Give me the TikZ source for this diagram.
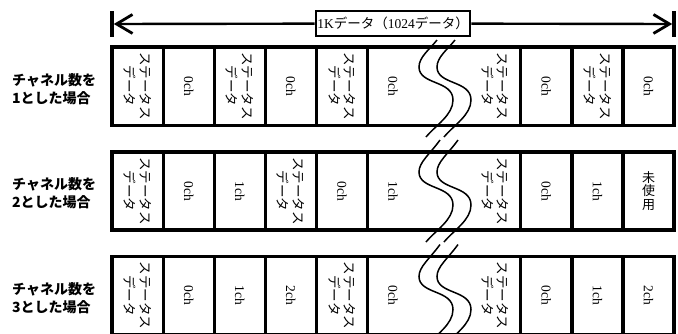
\documentclass[tikz,border=0pt]{standalone}
\usepackage{fontspec}
\setmainfont{Liberation Serif}
\newfontfamily\jp{Noto Sans CJK JP}
\usetikzlibrary{arrows.meta}

% one wavy break line; #1 = x reference, #2 = row top, #3/#4 = start offsets
\newcommand\brkcurve[4]{%
  \draw[wave] ({#1+#3},{#2+#4})
    .. controls ({#1+8},{#2+2}) and ({#1-3},{#2+10}) .. ({#1-3},{#2+20})
    .. controls ({#1-3},{#2+38}) and ({#1+31},{#2+33}) .. ({#1+31},{#2+53})
    .. controls ({#1+31},{#2+68}) and ({#1+14},{#2+78}) .. ({#1+4},{#2+90});}

\begin{document}
\begin{tikzpicture}[x=1pt,y=-1pt,
  frame/.style={line width=3.2pt},
  wave/.style={line width=1.5pt},
  bar/.style={fill=black,inner sep=0pt,minimum width=3.2pt,minimum height=26pt},
  stat/.style={rotate=-90,inner sep=0pt,align=center,font=\jp\fontsize{13.5}{15.5}\selectfont},
  chan/.style={rotate=-90,inner sep=0pt,font=\fontsize{13.5}{15}\selectfont},
  spare/.style={inner sep=0pt,align=center,font=\jp\fontsize{13}{13.5}\selectfont},
  rowlabel/.style={anchor=west,inner sep=0pt,align=left,font=\jp\bfseries\fontsize{14}{18.5}\selectfont},
  span/.style={draw,line width=2.8pt,fill=white,inner sep=0pt,minimum width=154pt,minimum height=25pt,font=\fontsize{13.5}{15}\selectfont},
  spanarrow/.style={line width=2.4pt,-{Straight Barb[length=16pt,width=19pt,line width=2.8pt]}}]
\useasboundingbox (0,0) rectangle (678,333);

% total length marker
\node[bar] (lbar) at (112,24) {};
\node[bar] (rbar) at (674,24) {};
\node[span] (lbl) at (393,23.5) {1K{\jp データ（}1024{\jp データ）}};
\draw[spanarrow] (lbl) -- (lbar);
\draw[spanarrow] (lbl) -- (rbar);

% row frames and cell dividers
\foreach \t/\b in {47/125.5,152/230,256.5/334.5}{
  \draw[frame] (112,\t) rectangle (674,\b);
  \foreach \k in {1,2,3,4,5,8,9,10}
    \draw[frame] ({112+51.1*\k},\t) -- ({112+51.1*\k},\b);
}

% row labels
\node[rowlabel] (lab1) at (12,89) {チャネル数を\\1とした場合};
\node[rowlabel] (lab2) at (12,193) {チャネル数を\\2とした場合};
\node[rowlabel] (lab3) at (12,298) {チャネル数を\\3とした場合};

% row 1: one channel
\foreach \k/\n in {0/a,2/b,4/c,7/d,9/e}
  \node[stat] (s1\n) at ({137.55+51.1*\k},86) {ステータス\\データ};
\foreach \k/\n in {1/a,3/b,5/c,8/d,10/e}
  \node[chan] (c1\n) at ({137.55+51.1*\k},86) {0ch};

% row 2: two channels
\foreach \k/\n in {0/a,3/b,7/c}
  \node[stat] (s2\n) at ({137.55+51.1*\k},191) {ステータス\\データ};
\foreach \k/\txt/\n in {1/0ch/a,2/1ch/b,4/0ch/c,5/1ch/d,8/0ch/e,9/1ch/f}
  \node[chan] (c2\n) at ({137.55+51.1*\k},191) {\txt};
\node[spare] (u2) at ({137.55+51.1*10},191) {未\\使\\用};

% row 3: three channels
\foreach \k/\n in {0/a,4/b,7/c}
  \node[stat] (s3\n) at ({137.55+51.1*\k},295.5) {ステータス\\データ};
\foreach \k/\txt/\n in {1/0ch/a,2/1ch/b,3/2ch/c,5/0ch/d,8/0ch/e,9/1ch/f,10/2ch/g}
  \node[chan] (c3\n) at ({137.55+51.1*\k},295.5) {\txt};

% break marks
\brkcurve{422}{47}{15}{-7}
\brkcurve{440}{47}{15}{-7}
\brkcurve{422}{152}{18}{-12}
\brkcurve{440}{152}{18}{-12}
\brkcurve{422}{256.5}{18}{-12}
\brkcurve{440}{256.5}{18}{-12}
\end{tikzpicture}
\end{document}
